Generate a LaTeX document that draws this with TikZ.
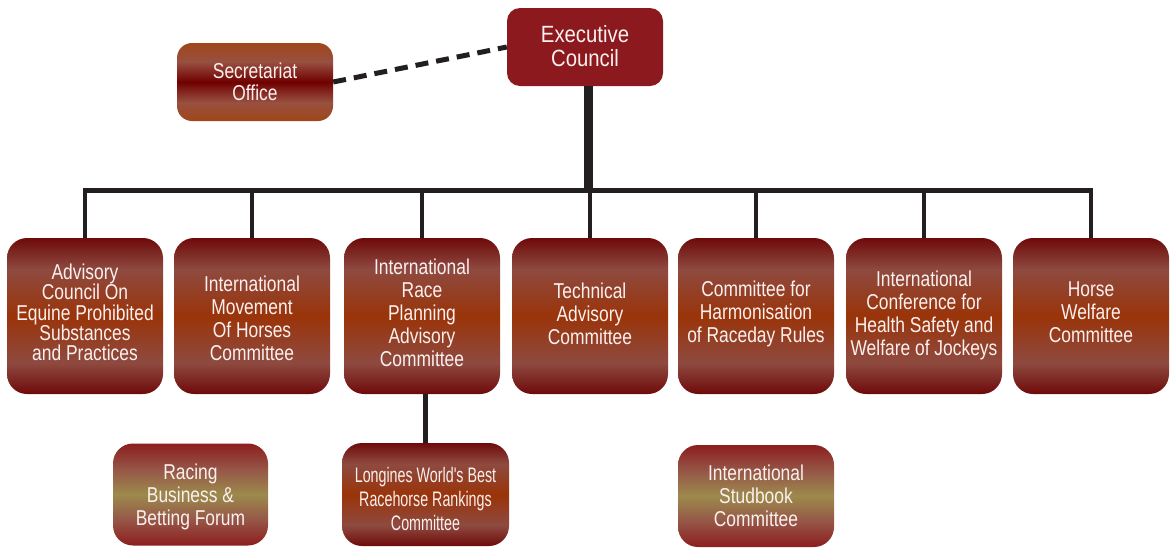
\documentclass[tikz,border=0pt]{standalone}
\usepackage{fontspec}
\setmainfont{Liberation Sans}
\newfontfamily\boxfont[FakeStretch=0.81]{Liberation Sans}
\newfontfamily\execfont[FakeStretch=0.865]{Liberation Sans}
\newfontfamily\narrowfont[FakeStretch=0.68]{Liberation Sans}
\definecolor{dkred}{HTML}{6E0A0A}
\definecolor{brn}{HTML}{8E4A40}
\definecolor{orng}{HTML}{9A3409}
\definecolor{secor}{HTML}{A0461A}
\definecolor{secbr}{HTML}{985040}
\definecolor{secdk}{HTML}{700000}
\definecolor{olred}{HTML}{8C1E1E}
\definecolor{olmid}{HTML}{9C8A4C}
\definecolor{olbr}{HTML}{965848}
\definecolor{execred}{HTML}{8C191E}
\definecolor{linec}{HTML}{231F20}
\definecolor{txt}{HTML}{FBF0F0}
\pgfdeclareverticalshading{rowshade}{100bp}{color(0bp)=(dkred); color(25bp)=(dkred); color(35bp)=(brn); color(50bp)=(orng); color(65bp)=(brn); color(75bp)=(dkred); color(100bp)=(dkred)}
\pgfdeclareverticalshading{secshade}{100bp}{color(0bp)=(secor); color(25bp)=(secor); color(37bp)=(secbr); color(50bp)=(secdk); color(63bp)=(secbr); color(75bp)=(secor); color(100bp)=(secor)}
\pgfdeclareverticalshading{oliveshade}{100bp}{color(0bp)=(olred); color(25bp)=(olred); color(38bp)=(olbr); color(50bp)=(olmid); color(62bp)=(olbr); color(75bp)=(olred); color(100bp)=(olred)}
\newcommand\lift[2]{\raisebox{#1}[\height][\depth]{\let\\\cr\vbox{\halign{\hfil##\hfil\cr#2\crcr}}}}
\tikzset{
  basebox/.style={rounded corners=20pt, inner sep=0pt, text=txt},
  rowbox/.style={basebox, shading=rowshade, minimum width=156pt, minimum height=156pt, font=\boxfont\fontsize{21.5}{23}\selectfont},
  secbox/.style={basebox, rounded corners=15pt, shading=secshade, minimum width=156pt, minimum height=78pt, font=\boxfont\fontsize{21.5}{22.5}\selectfont},
  execbox/.style={basebox, rounded corners=13pt, fill=execred, minimum width=156pt, minimum height=78pt, font=\execfont\fontsize{23.5}{24.5}\selectfont},
  olivebox/.style={basebox, shading=oliveshade, minimum height=102pt, font=\boxfont\fontsize{21.5}{23}\selectfont},
  lonbox/.style={basebox, shading=rowshade, minimum height=103pt, font=\narrowfont\fontsize{21}{24}\selectfont},
  trunk/.style={draw=linec, line width=9pt},
  busline/.style={draw=linec, line width=5pt},
  dropline/.style={draw=linec, line width=4.5pt},
  dashline/.style={draw=linec, line width=5pt, dash pattern=on 13pt off 8pt}
}
\begin{document}
\begin{tikzpicture}[x=1pt,y=-1pt]
\useasboundingbox (0,0) rectangle (1170,547);
% top
\node[execbox] (exec) at (585,47) {\lift{1pt}{Executive\\Council}};
\node[secbox] (sec) at (255,82) {\lift{0pt}{Secretariat\\Office}};
\coordinate (bus) at (588,190);
% row
\node[rowbox, font=\boxfont\fontsize{21.5}{20.4}\selectfont] (b1) at (85,316) {\lift{3.5pt}{Advisory\\Council On\\Equine Prohibited\\Substances\\and Practices}};
\node[rowbox] (b2) at (252,316) {\lift{-2pt}{International\\Movement\\Of Horses\\Committee}};
\node[rowbox] (b3) at (422,316) {\lift{3.5pt}{International\\Race\\Planning\\Advisory\\Committee}};
\node[rowbox] (b4) at (590,316) {\lift{2pt}{Technical\\Advisory\\Committee}};
\node[rowbox] (b5) at (756,316) {\lift{2.5pt}{Committee for\\Harmonisation\\of Raceday Rules}};
\node[rowbox] (b6) at (924,316) {\lift{1pt}{International\\Conference for\\Health Safety and\\Welfare of Jockeys}};
\node[rowbox] (b7) at (1091,316) {\lift{3.5pt}{Horse\\Welfare\\Committee}};
% bottom
\node[olivebox, minimum width=155pt] (rbf) at (190.5,494.5) {\lift{-2.5pt}{Racing\\Business \&\\Betting Forum}};
\node[lonbox, minimum width=167pt] (lon) at (425.5,494.5) {\lift{-4pt}{Longines World's Best\\Racehorse Rankings\\Committee}};
\node[olivebox, minimum width=156pt] (isc) at (756,496) {\lift{0pt}{International\\Studbook\\Committee}};
% connectors
\draw[dashline] (sec.east) -- (exec.west);
\draw[trunk] ([xshift=3pt]exec.south) -- ([xshift=3pt]exec.south |- bus);
\draw[busline] ([xshift=-2.25pt]b1.north |- bus) -- ([xshift=2.25pt]b7.north |- bus);
\foreach \b in {b1,b2,b3,b4,b5,b6,b7}{
  \draw[dropline] (\b.north) -- (\b.north |- bus);
}
\draw[dropline] (lon.north) -- (lon.north |- b3.south);
\end{tikzpicture}
\end{document}
